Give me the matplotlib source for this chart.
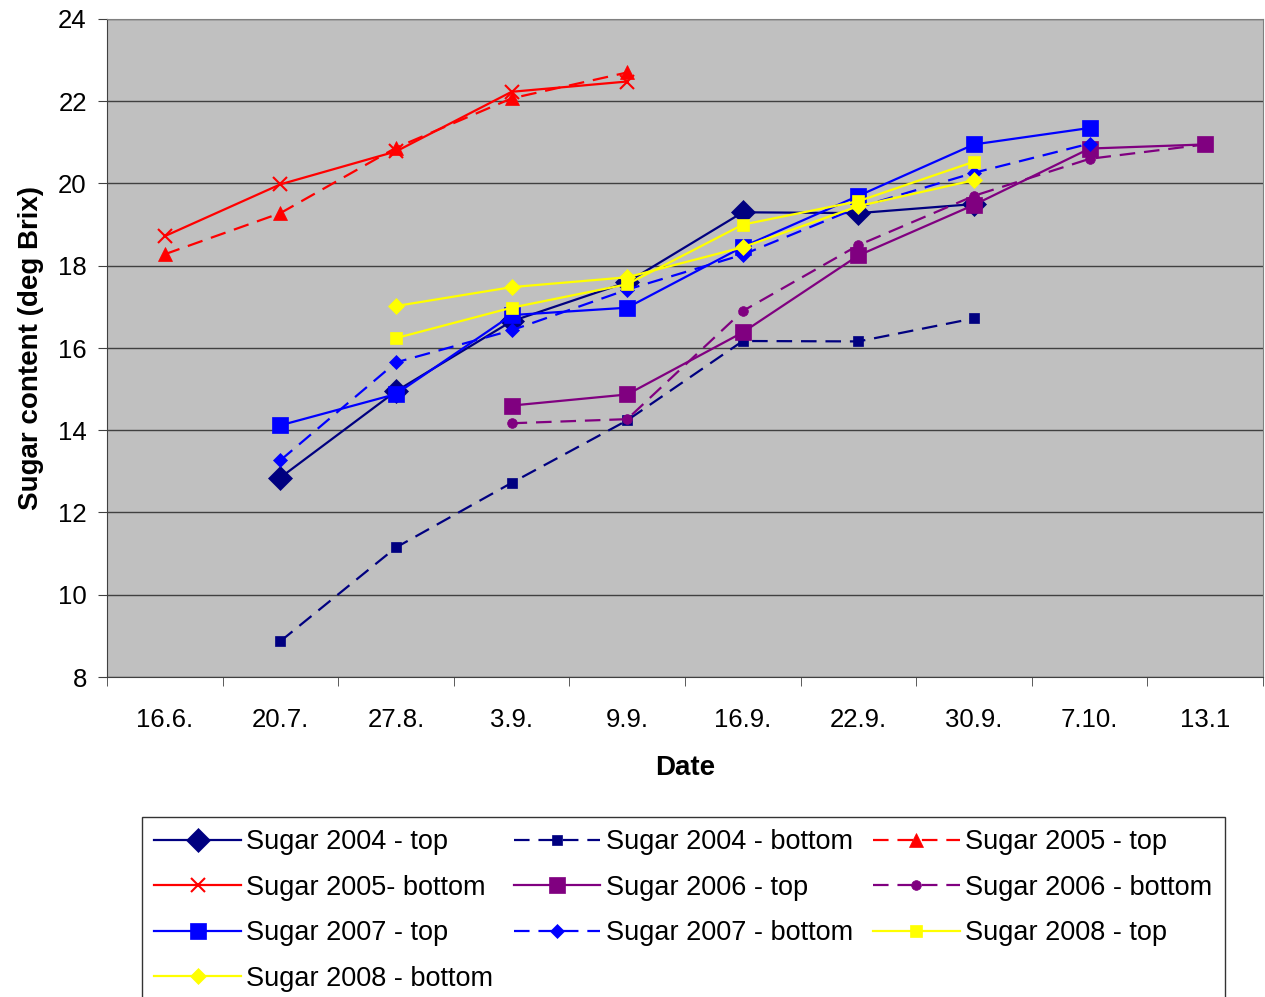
import numpy as np
import matplotlib
matplotlib.use("Agg")
import matplotlib.pyplot as plt

plt.rcParams["font.family"] = ["Liberation Sans", "DejaVu Sans"]

dates = ["16.6.", "20.7.", "27.8.", "3.9.", "9.9.", "16.9.", "22.9.", "30.9.", "7.10.", "13.1"]
nan = np.nan

sugar_2004_top = [nan, 12.85, 14.95, 16.65, 17.6, 19.3, 19.28, 19.5, nan, nan]
sugar_2004_bottom = [nan, 8.87, 11.15, 12.72, 14.24, 16.17, 16.16, 16.72, nan, nan]
sugar_2005_top = [18.28, 19.28, 20.87, 22.07, 22.7, nan, nan, nan, nan, nan]
sugar_2005_bottom = [18.72, 19.98, 20.78, 22.23, 22.48, nan, nan, nan, nan, nan]
sugar_2006_top = [nan, nan, nan, 14.6, 14.87, 16.38, 18.25, 19.48, 20.85, 20.95]
sugar_2006_bottom = [nan, nan, nan, 14.17, 14.27, 16.9, 18.5, 19.7, 20.6, 20.95]
sugar_2007_top = [nan, 14.12, 14.88, 16.8, 16.98, 18.46, 19.7, 20.95, 21.35, nan]
sugar_2007_bottom = [nan, 13.27, 15.65, 16.43, 17.42, 18.27, 19.42, 20.26, 20.97, nan]
sugar_2008_top = [nan, nan, 16.24, 16.98, 17.55, 19.0, 19.57, 20.53, nan, nan]
sugar_2008_bottom = [nan, nan, 17.02, 17.48, 17.72, 18.45, 19.45, 20.08, nan, nan]

series = [
    ("Sugar 2004 - top", sugar_2004_top, "#000080", "-", "D", 12),
    ("Sugar 2004 - bottom", sugar_2004_bottom, "#000080", "--", "s", 7),
    ("Sugar 2005 - top", sugar_2005_top, "#FF0000", "--", "^", 10),
    ("Sugar 2005- bottom", sugar_2005_bottom, "#FF0000", "-", "x", 10),
    ("Sugar 2006 - top", sugar_2006_top, "#800080", "-", "s", 12),
    ("Sugar 2006 - bottom", sugar_2006_bottom, "#800080", "--", "o", 7),
    ("Sugar 2007 - top", sugar_2007_top, "#0000FF", "-", "s", 12),
    ("Sugar 2007 - bottom", sugar_2007_bottom, "#0000FF", "--", "D", 7),
    ("Sugar 2008 - top", sugar_2008_top, "#FFFF00", "-", "s", 8.5),
    ("Sugar 2008 - bottom", sugar_2008_bottom, "#FFFF00", "-", "D", 8),
]

fig = plt.figure(figsize=(12.65, 9.97), dpi=100)
ax = fig.add_axes([107 / 1265, 1 - 677 / 997, 1156 / 1265, 658 / 997])
ax.set_facecolor("#C0C0C0")

x = np.arange(len(dates))
handles = []
for label, vals, color, ls, marker, ms in series:
    y = np.array(vals, dtype=float)
    ok = ~np.isnan(y)
    line, = ax.plot(x[ok], y[ok], color=color, linestyle=ls, marker=marker, markersize=ms,
                    linewidth=1.6, label=label, markeredgewidth=1.5 if marker == "x" else 0.5,
                    markeredgecolor=color)
    if ls == "--":
        line.set_dashes((7, 4))
    handles.append(line)

ax.set_xlim(-0.5, len(dates) - 0.5)
ax.set_ylim(8, 24)
ax.set_yticks(range(8, 25, 2))
ax.yaxis.grid(True, color="#404040", linewidth=1.0)
ax.set_axisbelow(True)

ax.set_xticks(x)
ax.set_xticklabels(dates, fontsize=18.5)
ax.set_xticks(np.arange(-0.5, len(dates), 1), minor=True)
ax.tick_params(axis="x", which="major", length=0, pad=22)
ax.tick_params(axis="x", which="minor", length=6.5, direction="out", color="#404040")
ax.tick_params(axis="y", labelsize=18.5, length=6.5, pad=8, direction="out", color="#404040")

for side in ["left", "bottom"]:
    ax.spines[side].set_color("#404040")
for side in ["right", "top"]:
    ax.spines[side].set_color("#808080")

ax.set_xlabel("Date", fontsize=20, fontweight="bold", labelpad=17)
ax.set_ylabel("Sugar content (deg Brix)", fontsize=20, fontweight="bold", labelpad=10)

# legend is filled row by row in the original
order = [0, 3, 6, 9, 1, 4, 7, 2, 5, 8]
leg = fig.legend([handles[i] for i in order], [series[i][0] for i in order],
                 loc="upper left", bbox_to_anchor=(142 / 1265, 1 - 817 / 997), ncol=3,
                 fontsize=19.5, frameon=True, fancybox=False, edgecolor="black",
                 handlelength=3.2, handletextpad=0.2, columnspacing=0.75,
                 labelspacing=0.72, borderpad=0.45, borderaxespad=0)
leg.get_frame().set_linewidth(1.0)

fig.savefig("out.png", dpi=100)
